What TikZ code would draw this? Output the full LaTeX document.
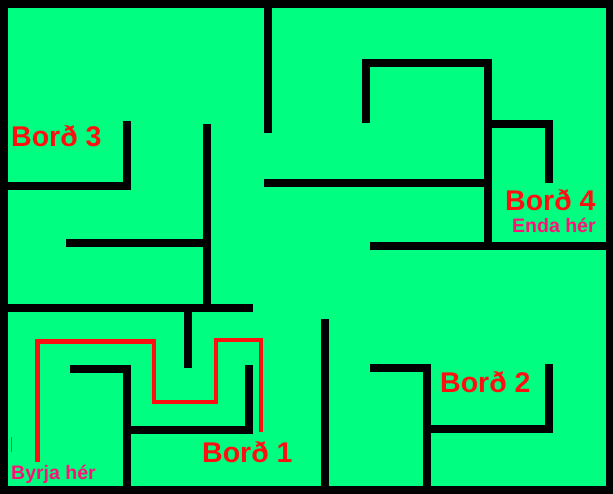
\documentclass[tikz,border=0pt]{standalone}
\usepackage{fontspec}
\setmainfont{Liberation Sans}
\usepackage{xcolor}
\usepackage{tikz}
\usetikzlibrary{positioning}
\definecolor{mazegreen}{RGB}{0,255,128}
\definecolor{routered}{RGB}{255,16,16}
\definecolor{notepink}{RGB}{255,16,120}
\tikzset{
  mazewall/.style={draw=black,line width=8pt},
  routeline/.style={draw=routered,line width=4.5pt},
  levellabel/.style={anchor=base west,inner sep=0pt,text=routered,
    font=\fontsize{28.5}{30}\selectfont\bfseries},
  notelabel/.style={anchor=base west,inner sep=0pt,text=notepink,
    font=\fontsize{19.5}{21}\selectfont\bfseries}
}
\begin{document}
\begin{tikzpicture}[x=1pt,y=-1pt]
  \useasboundingbox (0,0) rectangle (613,493);
  \fill[mazegreen] (0,0) rectangle (613,493);
  % outer frame
  \draw[mazewall] (4,4) rectangle (609.5,490);
  % upper walls
  \draw[mazewall] (267.5,0)--(267.5,133);
  \draw[mazewall] (0,185.5)--(127,185.5)--(127,121);
  \draw[mazewall] (206.5,124)--(206.5,308);
  \draw[mazewall] (66,243)--(206.5,243);
  \draw[mazewall] (264,183)--(488,183);
  \draw[mazewall] (366,123)--(366,63)--(488,63)--(488,246);
  \draw[mazewall] (488,124)--(549,124)--(549,183);
  \draw[mazewall] (370,246)--(609,246);
  % lower walls
  \draw[mazewall] (0,308)--(253,308);
  \draw[mazewall] (188,308)--(188,368);
  \draw[mazewall] (70,369)--(127,369)--(127,490);
  \draw[mazewall] (127,429.5)--(249,429.5)--(249,365);
  \draw[mazewall] (325,319)--(325,490);
  \draw[mazewall] (370,368)--(427,368)--(427,490);
  \draw[mazewall] (427,429)--(549,429)--(549,364);
  % route
  \draw[routeline] (37.5,462)--(37.5,341.5)--(154,341.5)--(154,402)
    --(216,402)--(216,340)--(261,340)--(261,432);
  \draw[notepink,line width=1pt] (11.5,437)--(11.5,452);
  % labels
  \node[levellabel] (bord3) at (11,146) {Borð 3};
  \node[levellabel] (bord4) at (505,210) {Borð 4};
  \node[levellabel] (bord2) at (440,392) {Borð 2};
  \node[levellabel] (bord1) at (202,462) {Borð 1};
  \node[notelabel] (endhere) at (512,232.5) {Enda hér};
  \node[notelabel] (starthere) at (11,479.5) {Byrja hér};
\end{tikzpicture}
\end{document}
